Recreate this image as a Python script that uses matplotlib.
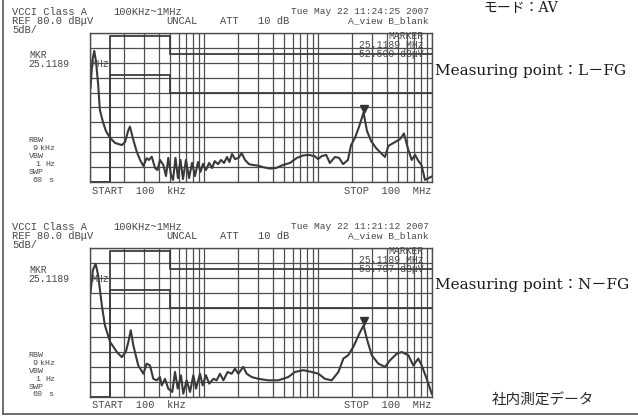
import matplotlib
matplotlib.use('Agg')
import matplotlib.pyplot as plt
from matplotlib.ticker import FixedLocator, MultipleLocator, NullLocator
from matplotlib.lines import Line2D
import matplotlib.transforms as mtransforms

# ---------------- data ----------------
# L-FG trace (frequency in MHz, level in dBuV)
lfg_freq_mhz = [0.101, 0.105, 0.109, 0.113, 0.118, 0.122, 0.130, 0.138, 0.150, 0.166,
                0.190, 0.203, 0.217, 0.224, 0.240, 0.257, 0.275, 0.294, 0.314, 0.329,
                0.348, 0.372, 0.391, 0.411, 0.440, 0.464, 0.486, 0.514, 0.535, 0.562,
                0.591, 0.622, 0.654, 0.695, 0.739, 0.785, 0.834, 0.886, 0.932, 0.980,
                1.04, 1.11, 1.18, 1.24, 1.33, 1.41, 1.50, 1.59, 1.67, 1.76,
                1.87, 2.01, 2.14, 2.29, 2.48, 2.69, 2.98, 3.29, 3.79, 4.28,
                4.93, 5.68, 6.54, 7.39, 8.34, 9.41, 10.0, 10.8, 11.8, 12.7,
                14.1, 15.3, 16.6, 18.3, 19.5, 21.1, 22.9, 25.1, 26.9, 29.2,
                32.3, 35.7, 38.7, 41.4, 47.4, 52.4, 56.8, 61.6, 66.4, 71.0,
                76.2, 80.9, 86.8, 93.2, 99.0]
lfg_level = [61.5, 70.9, 74.0, 70.3, 62.6, 54.2, 50.1, 47.1, 44.8, 43.1,
             42.4, 43.4, 47.4, 48.6, 44.1, 40.2, 37.4, 35.4, 38.0, 37.4,
             38.5, 34.7, 34.0, 37.4, 35.7, 32.0, 38.1, 32.3, 30.7, 38.1,
             31.3, 37.4, 31.0, 37.4, 31.3, 36.4, 32.0, 36.7, 33.4, 36.1,
             34.0, 36.4, 34.7, 37.0, 36.0, 37.4, 36.4, 38.4, 36.7, 39.4,
             37.7, 38.1, 39.7, 37.4, 36.0, 35.7, 35.5, 35.0, 34.5, 34.7,
             35.7, 36.4, 38.1, 38.9, 39.1, 38.6, 37.7, 38.7, 39.1, 36.4,
             38.4, 38.1, 36.0, 37.4, 42.4, 44.8, 48.5, 53.3, 47.1, 43.8,
             41.4, 39.7, 38.4, 42.1, 43.4, 44.4, 46.3, 41.1, 37.4, 39.1,
             37.0, 35.7, 30.7, 31.3, 31.8]

# N-FG trace
nfg_freq_mhz = [0.101, 0.106, 0.112, 0.118, 0.127, 0.135, 0.150, 0.172, 0.190, 0.206,
                0.217, 0.228, 0.240, 0.265, 0.294, 0.314, 0.336, 0.359, 0.385, 0.411,
                0.426, 0.455, 0.486, 0.527, 0.557, 0.588, 0.628, 0.658, 0.705, 0.754,
                0.806, 0.851, 0.923, 0.974, 1.04, 1.11, 1.21, 1.29, 1.38, 1.48,
                1.61, 1.75, 1.87, 2.00, 2.21, 2.37, 2.62, 3.00, 3.66, 4.49,
                5.49, 6.28, 7.43, 8.81, 10.1, 11.5, 13.2, 15.1, 16.7, 18.4,
                20.4, 23.4, 25.1, 26.8, 29.6, 33.8, 38.7, 42.8, 49.0, 54.2,
                62.0, 68.6, 75.8, 81.2, 89.9, 99.4]
nfg_level = [64.9, 72.6, 74.7, 70.8, 60.8, 54.1, 48.5, 45.1, 43.4, 45.1,
             48.5, 52.4, 47.3, 40.6, 37.8, 41.2, 40.6, 36.1, 35.6, 36.7,
             33.9, 36.1, 32.8, 31.7, 38.4, 32.8, 37.3, 31.1, 35.6, 31.7,
             37.3, 32.8, 37.8, 33.9, 37.3, 34.5, 36.1, 35.6, 37.8, 35.6,
             38.4, 37.8, 39.5, 37.8, 40.1, 37.8, 36.7, 36.1, 35.6, 35.6,
             36.7, 38.4, 39.0, 38.4, 37.8, 36.1, 35.6, 38.4, 42.9, 44.0,
             46.8, 51.8, 54.0, 49.6, 44.0, 41.2, 40.1, 42.3, 44.5, 45.1,
             44.0, 40.6, 42.9, 40.6, 36.1, 31.1]

# VCCI Class A limit lines (MHz, dBuV)
limit_freq_mhz = [0.1, 0.15, 0.15, 0.5, 0.5, 100]
qp_limit_level = [30, 30, 79, 79, 73, 73]
av_limit_level = [30, 30, 66, 66, 60, 60]

marker_freq_mhz = 25.1189
panel_names = ["L－FG", "N－FG"]
panel_times = ["Tue May 22 11:24:25 2007", "Tue May 22 11:21:12 2007"]
panel_marker_levels = [52.500, 53.797]
panel_traces = [(lfg_freq_mhz, lfg_level), (nfg_freq_mhz, nfg_level)]

# ---------------- layout ----------------
W, H = 638, 416
fig = plt.figure(figsize=(W / 100, H / 100), dpi=100)
fig.patch.set_facecolor('white')

GRID = '#4d4d4d'
TRACE = '#3a3a3a'
TXT = '#474747'
MONO = 'Liberation Mono'


def ftext(x, y, s, ha='left', size=7.0, family=MONO, color=TXT, va='center', **kw):
    fig.text(x / W, 1 - y / H, s, ha=ha, va=va, fontsize=size,
             family=family, color=color, **kw)


grid_x = [m * 10.0 ** k for k in (-1, 0, 1) for m in range(1, 10)] + [100.0]

for i in range(2):
    dy = 215 * i
    top, bot = 33 + dy, 182 + dy
    ax = fig.add_axes([90 / W, 1 - bot / H, 342 / W, (bot - top) / H])
    ax.set_xscale('log')
    ax.set_xlim(0.1, 100)
    ax.set_ylim(30, 80)
    ax.xaxis.set_major_locator(FixedLocator(grid_x))
    ax.xaxis.set_minor_locator(NullLocator())
    ax.yaxis.set_major_locator(MultipleLocator(5))
    ax.yaxis.set_minor_locator(NullLocator())
    ax.tick_params(which='both', length=0, labelbottom=False, labelleft=False)
    ax.grid(True, which='major', color=GRID, lw=0.9)
    for sp in ax.spines.values():
        sp.set_color(GRID)
        sp.set_linewidth(1.0)

    ax.plot(limit_freq_mhz, qp_limit_level, color='#3d3d3d', lw=1.3)
    ax.plot(limit_freq_mhz, av_limit_level, color='#3d3d3d', lw=1.3)

    fq, lv = panel_traces[i]
    ax.plot(fq, lv, color=TRACE, lw=1.5, solid_joinstyle='round')

    trans = mtransforms.offset_copy(ax.transData, fig=fig, x=0, y=4, units='points')
    ax.plot([marker_freq_mhz], [panel_marker_levels[i]], marker='v', ms=6,
            color='#333333', transform=trans, clip_on=False, ls='none')

    # analyser annotations
    ftext(12, 12 + dy, "VCCI Class A", size=7.5)
    ftext(113, 12 + dy, "100KHz~1MHz", size=7.5)
    ftext(12, 21.2 + dy, "REF 80.0 dBμV", size=7.5)
    ftext(166, 21.2 + dy, "UNCAL", size=7.5)
    ftext(220, 21.2 + dy, "ATT", size=7.5)
    ftext(258, 21.2 + dy, "10 dB", size=7.5)
    ftext(12, 30.4 + dy, "5dB/", size=7.5)
    ftext(429, 12 + dy, panel_times[i], ha='right', size=6.8)
    ftext(429, 21.2 + dy, "A_view B_blank", ha='right', size=6.8)
    ftext(424, 36 + dy, "MARKER", ha='right')
    ftext(424, 45.2 + dy, f"{marker_freq_mhz:.4f} MHz", ha='right')
    ftext(424, 54.4 + dy, f"{panel_marker_levels[i]:.3f} dBμV", ha='right')
    ftext(29, 55 + dy, "MKR")
    ftext(28, 64.2 + dy, f"{marker_freq_mhz:.4f}")
    ftext(91, 64.2 + dy, "MHz")
    rbw_y = [140.5, 148.4, 156.3, 164.2, 172.1, 180.0]
    ftext(28, rbw_y[0] + dy, "RBW", size=6)
    ftext(32, rbw_y[1] + dy, "9", size=6)
    ftext(40, rbw_y[1] + dy, "kHz", size=6)
    ftext(29, rbw_y[2] + dy, "VBW", size=6)
    ftext(35, rbw_y[3] + dy, "1", size=6)
    ftext(45, rbw_y[3] + dy, "Hz", size=6)
    ftext(29, rbw_y[4] + dy, "SWP", size=6)
    ftext(32, rbw_y[5] + dy, "60", size=6)
    ftext(48, rbw_y[5] + dy, "s", size=6)
    ftext(92, 190.5 + dy, "START  100  kHz", size=7.5)
    ftext(432, 190.5 + dy, "STOP  100  MHz", ha='right', size=7.5)

    ftext(435, 70.5 + dy, f"Measuring point：{panel_names[i]}", size=11,
          family=['DejaVu Serif', 'Noto Sans CJK JP'], color='#1a1a1a')

ftext(492, 401, "社内測定データ", size=10.5, family=['Noto Sans CJK JP'], color='#2a2a2a')
ftext(483, 1, "モード：AV", size=10, family=['DejaVu Serif', 'Noto Sans CJK JP'],
      color='#1a1a1a', va='top')

# outer frame (left and bottom edges)
fig.add_artist(Line2D([3 / W, 3 / W], [1.0, 1 - 414 / H], color='#555555', lw=1.2))
fig.add_artist(Line2D([3 / W, 1.0], [1 - 414 / H, 1 - 414 / H], color='#555555', lw=1.2))

fig.savefig('out.png', dpi=100, facecolor='white')
